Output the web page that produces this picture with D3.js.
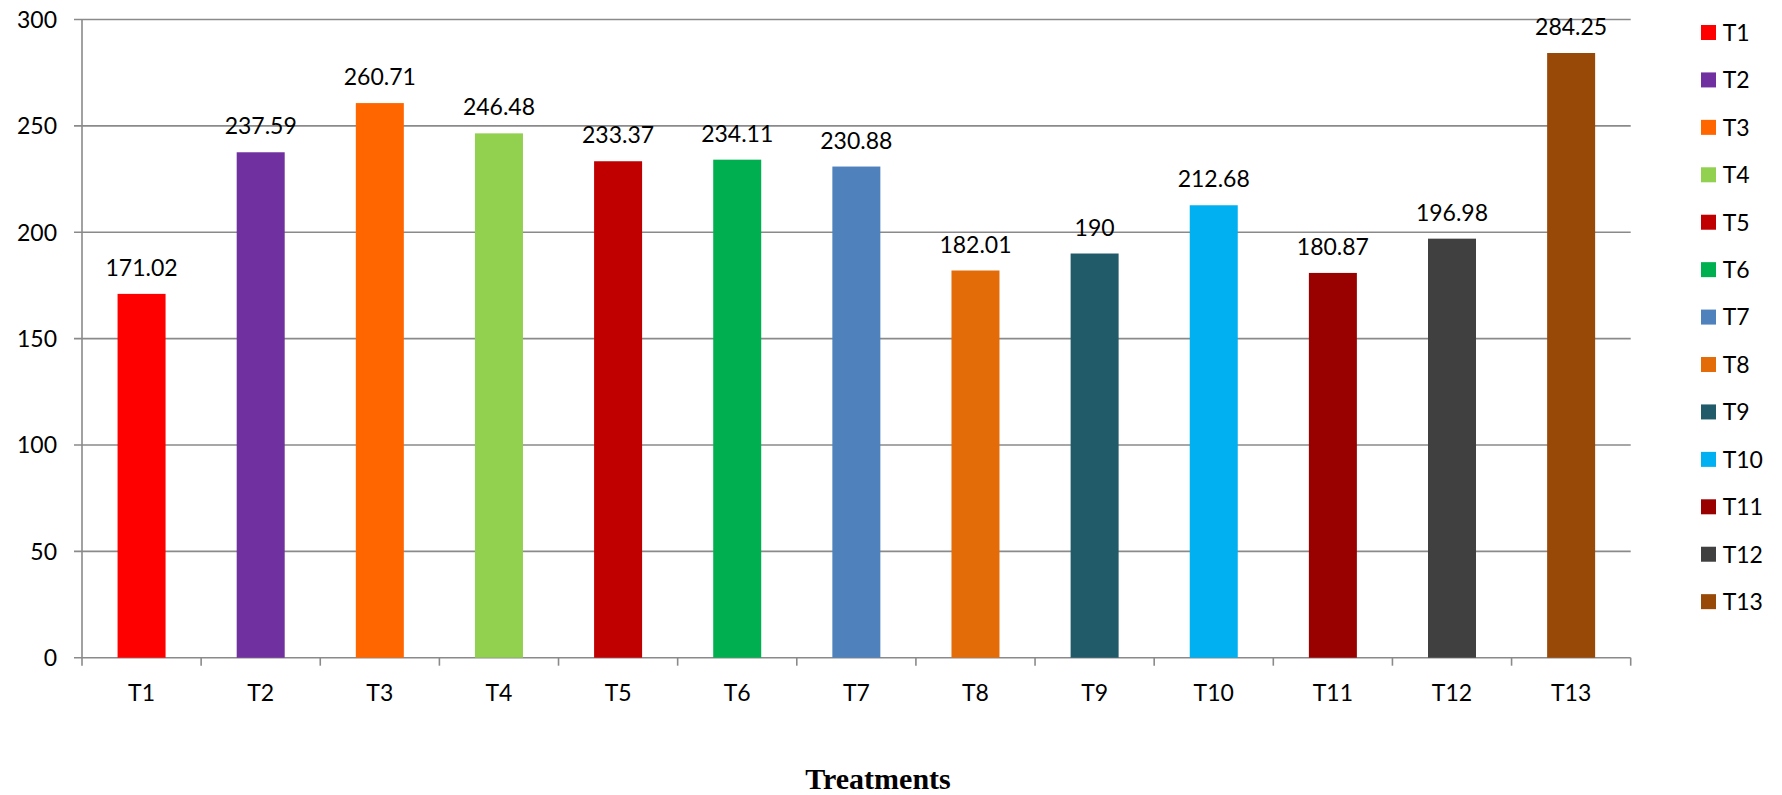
<!DOCTYPE html>
<html>
<head>
<meta charset="utf-8">
<script src="https://cdn.jsdelivr.net/npm/d3@7"></script>
<style>
  html, body { margin: 0; padding: 0; background: #fff; }
  svg { display: block; }
</style>
</head>
<body>
<svg id="chart" width="1782" height="795"></svg>
<script>
const categories = ["T1","T2","T3","T4","T5","T6","T7","T8","T9","T10","T11","T12","T13"];
const values = [171.02, 237.59, 260.71, 246.48, 233.37, 234.11, 230.88, 182.01, 190, 212.68, 180.87, 196.98, 284.25];
const valueLabels = ["171.02","237.59","260.71","246.48","233.37","234.11","230.88","182.01","190","212.68","180.87","196.98","284.25"];
const colors = ["#FF0000","#7030A0","#FF6600","#92D050","#C00000","#00B050","#4F81BD","#E36C09","#215A69","#00B0F0","#990000","#404040","#984807"];
const yTicks = [0, 50, 100, 150, 200, 250, 300];
const xTitle = "Treatments";

(function () {
const svg = d3.select("#chart");
const font = "Lato, 'Open Sans', sans-serif";
const fs = 23;
const pLeft = 82, pRight = 1630.7, pTop = 19.5, pBottom = 657.7;
const gridColor = "#8a8a8a";

const xEdges = d3.scaleBand().domain(categories).range([pLeft, pRight]);
const y = d3.scaleLinear().domain([0, 300]).range([pBottom, pTop]);
const cx = c => xEdges(c) + xEdges.bandwidth() / 2;

// gridlines
svg.append("g").selectAll("line").data(yTicks).join("line")
  .attr("x1", pLeft - 8).attr("x2", pRight)
  .attr("y1", d => y(d)).attr("y2", d => y(d))
  .attr("stroke", gridColor).attr("stroke-width", 1.6);

// y labels
svg.append("g").selectAll("text").data(yTicks).join("text")
  .attr("x", 57).attr("y", d => y(d)).attr("dy", "0.36em")
  .attr("text-anchor", "end")
  .attr("font-family", font).attr("font-size", fs).attr("fill", "#000")
  .text(d => d);

// y axis line
svg.append("line").attr("x1", pLeft).attr("x2", pLeft).attr("y1", pTop).attr("y2", pBottom + 8)
  .attr("stroke", gridColor).attr("stroke-width", 1.6);

// x ticks at band edges
const edges = categories.map(c => xEdges(c) + xEdges.bandwidth());
svg.append("g").selectAll("line").data(edges).join("line")
  .attr("x1", d => d).attr("x2", d => d).attr("y1", pBottom).attr("y2", pBottom + 8)
  .attr("stroke", gridColor).attr("stroke-width", 1.6);

// bars
svg.append("g").selectAll("rect").data(values).join("rect")
  .attr("x", (d, i) => cx(categories[i]) - 24)
  .attr("width", 48)
  .attr("y", d => y(d)).attr("height", d => pBottom - y(d))
  .attr("fill", (d, i) => colors[i]);

// value labels
svg.append("g").selectAll("text").data(values).join("text")
  .attr("x", (d, i) => cx(categories[i]))
  .attr("y", d => y(d) - 18)
  .attr("text-anchor", "middle")
  .attr("font-family", font).attr("font-size", fs).attr("fill", "#000")
  .text((d, i) => valueLabels[i]);

// x labels
svg.append("g").selectAll("text").data(categories).join("text")
  .attr("x", d => cx(d))
  .attr("y", 701)
  .attr("text-anchor", "middle")
  .attr("font-family", font).attr("font-size", fs).attr("fill", "#000")
  .text(d => d);

// x title
svg.append("text").attr("x", 878).attr("y", 789)
  .attr("text-anchor", "middle")
  .attr("font-family", "'Liberation Serif', 'Times New Roman', serif")
  .attr("font-weight", "bold").attr("font-size", 30).attr("fill", "#000")
  .text(xTitle);

// legend
const lg = svg.append("g").selectAll("g").data(categories).join("g")
  .attr("transform", (d, i) => `translate(1701, ${25 + i * 47.43})`);
lg.append("rect").attr("width", 15).attr("height", 15).attr("fill", (d, i) => colors[i]);
lg.append("text").attr("x", 21.7).attr("y", 7.5).attr("dy", "0.36em")
  .attr("font-family", font).attr("font-size", fs).attr("fill", "#000")
  .text(d => d);
})();
</script>
</body>
</html>
